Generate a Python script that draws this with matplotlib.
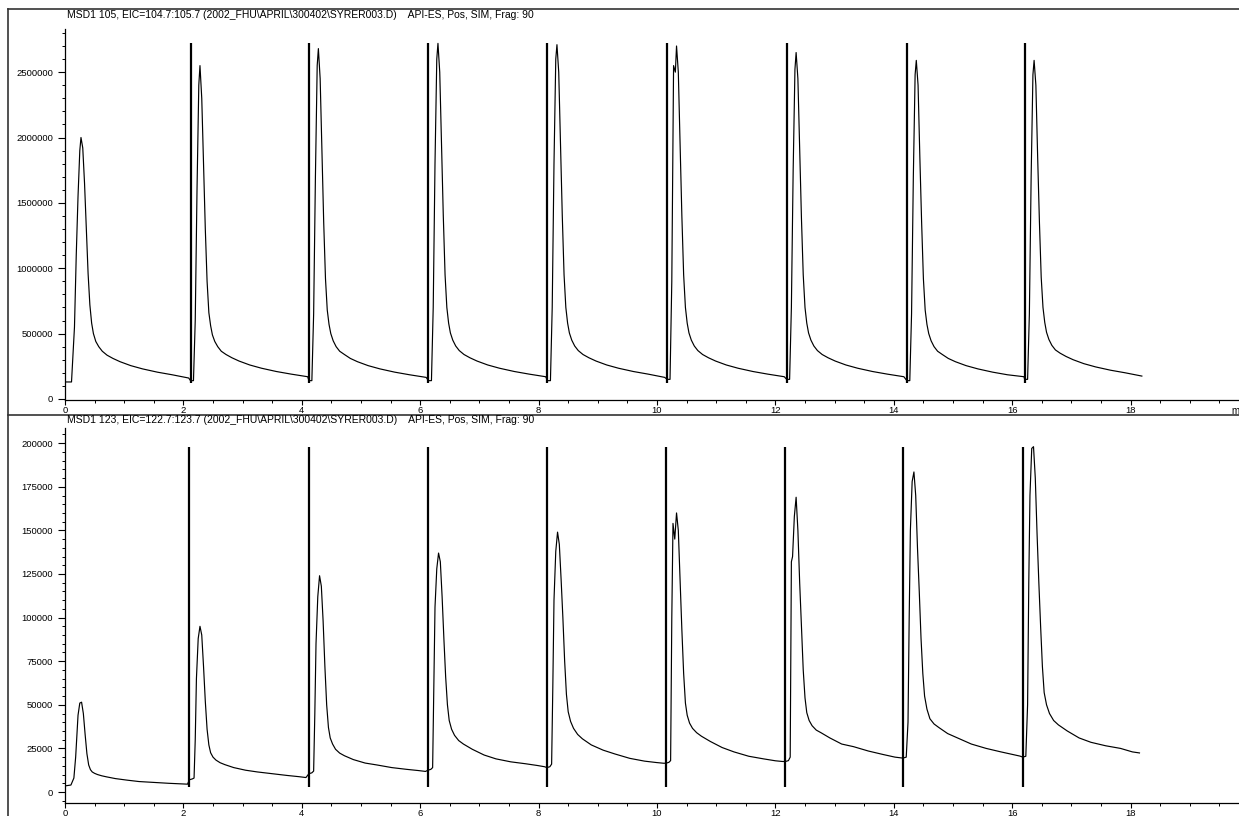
import numpy as np
import matplotlib.pyplot as plt
from matplotlib.ticker import MultipleLocator, FuncFormatter
from matplotlib.lines import Line2D

plt.rcParams['font.family'] = ['Liberation Sans', 'DejaVu Sans']

W, H = 1239, 816

top_title = "MSD1 105, EIC=104.7:105.7 (2002_FHU\\APRIL\\300402\\SYRER003.D)    API-ES, Pos, SIM, Frag: 90"
bot_title = "MSD1 123, EIC=122.7:123.7 (2002_FHU\\APRIL\\300402\\SYRER003.D)    API-ES, Pos, SIM, Frag: 90"

# ---- MSD1 105 (top): minutes after each injection, intensity in millions of counts
top_start = [0.11, 2.12, 4.12, 6.14, 8.15, 10.17, 12.19, 14.22, 16.21]
top_off = [0.00, 0.05, 0.08, 0.11, 0.14, 0.16, 0.19, 0.22, 0.25, 0.28, 0.31, 0.34,
           0.37, 0.41, 0.46, 0.52, 0.60, 0.70, 0.82, 1.00, 1.20, 1.45, 1.70, 1.98]
top_seg = [
    [0.13, 0.55, 1.10, 1.55, 1.90, 2.00, 1.92, 1.65, 1.30, 0.96, 0.72, 0.58, 0.50, 0.44, 0.40, 0.365, 0.335, 0.31, 0.285, 0.255, 0.23, 0.205, 0.185, 0.16],
    [0.14, 0.14, 0.60, 1.60, 2.40, 2.55, 2.30, 1.80, 1.30, 0.90, 0.66, 0.56, 0.49, 0.44, 0.40, 0.365, 0.34, 0.315, 0.29, 0.26, 0.235, 0.21, 0.19, 0.17],
    [0.14, 0.14, 0.65, 1.70, 2.55, 2.68, 2.45, 1.90, 1.35, 0.92, 0.68, 0.57, 0.50, 0.445, 0.40, 0.365, 0.34, 0.31, 0.285, 0.255, 0.23, 0.205, 0.185, 0.165],
    [0.14, 0.14, 0.70, 1.80, 2.60, 2.72, 2.50, 1.95, 1.40, 0.95, 0.70, 0.58, 0.505, 0.45, 0.405, 0.37, 0.34, 0.315, 0.29, 0.26, 0.235, 0.21, 0.19, 0.17],
    [0.14, 0.14, 0.70, 1.80, 2.60, 2.71, 2.50, 1.95, 1.40, 0.95, 0.70, 0.58, 0.505, 0.45, 0.405, 0.37, 0.34, 0.315, 0.29, 0.26, 0.235, 0.21, 0.19, 0.165],
    [0.15, 0.15, 0.90, 2.55, 2.50, 2.70, 2.50, 1.95, 1.40, 0.95, 0.70, 0.58, 0.505, 0.45, 0.405, 0.37, 0.34, 0.315, 0.29, 0.26, 0.235, 0.21, 0.19, 0.17],
    [0.15, 0.15, 0.70, 1.75, 2.52, 2.65, 2.45, 1.90, 1.38, 0.95, 0.70, 0.58, 0.505, 0.45, 0.405, 0.37, 0.34, 0.315, 0.29, 0.26, 0.235, 0.21, 0.19, 0.17],
    [0.14, 0.14, 0.65, 1.70, 2.48, 2.59, 2.40, 1.85, 1.35, 0.92, 0.68, 0.57, 0.50, 0.445, 0.40, 0.365, 0.34, 0.31, 0.285, 0.255, 0.23, 0.205, 0.185, 0.17],
    [0.15, 0.15, 0.65, 1.70, 2.48, 2.59, 2.40, 1.85, 1.35, 0.93, 0.70, 0.585, 0.51, 0.455, 0.41, 0.375, 0.35, 0.325, 0.30, 0.27, 0.245, 0.22, 0.20, 0.175],
]
top_spike_t = [2.12, 4.12, 6.14, 8.15, 10.17, 12.19, 14.22, 16.21]
top_spike_lo, top_spike_hi = 125000, 2720000

# ---- MSD1 123 (bottom): counts
bot_start = [0.10, 2.10, 4.12, 6.13, 8.14, 10.15, 12.17, 14.16, 16.18]
bot_off = [0.00, 0.05, 0.08, 0.10, 0.12, 0.15, 0.18, 0.21, 0.24, 0.27, 0.30, 0.33,
           0.36, 0.40, 0.45, 0.52, 0.60, 0.75, 0.95, 1.15, 1.40, 1.65, 1.85, 1.97]
bot_seg = [
    [4000, 8000, 20000, 32000, 44000, 51000, 51500, 45000, 33000, 22000, 15500, 12800, 11500, 10700, 10000, 9300, 8700, 7700, 6800, 6000, 5500, 5000, 4700, 4500],
    [7000, 7500, 8000, 30000, 65000, 88000, 95000, 90000, 72000, 52000, 36000, 27000, 22500, 20000, 18300, 16800, 15700, 14000, 12500, 11500, 10500, 9500, 8800, 8300],
    [10500, 11000, 12000, 45000, 85000, 112000, 124000, 118000, 98000, 72000, 50000, 37000, 31000, 27500, 24500, 22300, 20800, 18600, 16600, 15500, 14000, 13000, 12300, 11800],
    [12500, 13000, 14000, 60000, 106000, 128000, 137000, 132000, 112000, 88000, 66000, 50000, 41000, 36000, 32500, 29500, 27500, 24500, 21200, 19000, 17300, 16200, 15200, 14500],
    [14000, 14500, 16000, 60000, 110000, 138000, 149000, 142000, 122000, 100000, 75000, 56000, 46000, 40500, 36500, 33000, 30500, 27000, 24000, 21800, 19300, 17700, 16900, 16500],
    [16500, 17000, 18000, 100000, 154000, 145000, 160000, 150000, 122000, 93000, 68000, 51000, 44000, 39500, 36500, 34000, 32000, 29000, 25500, 23000, 20500, 19000, 17900, 17500],
    [17500, 18000, 20000, 132000, 135000, 158000, 169000, 150000, 120000, 95000, 70000, 54000, 45500, 41000, 38000, 35500, 34000, 31000, 27500, 26000, 23500, 21500, 20000, 19500],
    [19500, 20000, 40000, 100000, 150000, 178000, 183500, 170000, 140000, 115000, 88000, 68000, 55000, 47500, 42000, 39000, 37000, 33500, 30500, 27500, 25000, 23000, 21500, 20600],
    [20000, 20500, 50000, 120000, 170000, 197000, 198000, 180000, 148000, 120000, 95000, 72000, 57000, 50000, 45000, 41000, 38500, 35000, 31000, 28500, 26500, 25000, 23000, 22400],
]
bot_spike_t = [2.10, 4.12, 6.13, 8.14, 10.15, 12.17, 14.16, 16.18]
bot_spike_lo, bot_spike_hi = 3000, 198000


def build(starts, offs, segs, first, scale=1.0):
    t = [0.0]
    y = [first]
    for s, vals in zip(starts, segs):
        t += [s + o for o in offs]
        y += [v * scale for v in vals]
    return np.array(t), np.array(y)


t_top, y_top = build(top_start, top_off, top_seg, 130000, 1e6)
t_bot, y_bot = build(bot_start, bot_off, bot_seg, 3500)

fig = plt.figure(figsize=(W / 100, H / 100), dpi=100)

XMAX = 19.85  # axis runs off the right edge of the page


def px_axes(left, top, right, bottom):
    return fig.add_axes([left / W, 1 - bottom / H, (right - left) / W, (bottom - top) / H])


def style(ax, ymaj, ymin):
    for s in ['top', 'right']:
        ax.spines[s].set_visible(False)
    for s in ['left', 'bottom']:
        ax.spines[s].set_linewidth(0.9)
    ax.xaxis.set_major_locator(MultipleLocator(2))
    ax.xaxis.set_minor_locator(MultipleLocator(0.5))
    ax.yaxis.set_major_locator(MultipleLocator(ymaj))
    ax.yaxis.set_minor_locator(MultipleLocator(ymin))
    ax.yaxis.set_major_formatter(FuncFormatter(lambda v, p: '%d' % v))
    ax.tick_params(axis='y', which='major', length=5, width=0.8, labelsize=6.8, pad=3.5)
    ax.tick_params(axis='x', which='major', length=3.5, width=0.8, labelsize=6.8, pad=0.8)
    ax.tick_params(which='minor', length=2.3, width=0.7)
    ax.set_xlim(0, XMAX)


ax1 = px_axes(65, 29, 65 + XMAX * 59.2, 400)
ax1.plot(t_top, y_top, color='k', lw=0.85)
ax1.vlines(top_spike_t, top_spike_lo, top_spike_hi, color='k', lw=1.6)
ax1.set_ylim(-8000, 2830000)
style(ax1, 500000, 100000)

ax2 = px_axes(65, 428, 65 + XMAX * 59.2, 803)
ax2.plot(t_bot, y_bot, color='k', lw=0.85)
ax2.vlines(bot_spike_t, bot_spike_lo, bot_spike_hi, color='k', lw=1.6)
ax2.set_ylim(-6300, 208700)
style(ax2, 25000, 5000)

# titles and frame
fig.text(67 / W, 1 - 15 / H, top_title, fontsize=7.5, va='center', ha='left')
fig.text(67 / W, 1 - 420 / H, bot_title, fontsize=7.5, va='center', ha='left')
fig.text(1231 / W, 1 - 414 / H, 'min', fontsize=7, va='baseline', ha='left')

for (x0, y0, x1, y1) in [(8, 9, W, 9), (8, 9, 8, H), (8, 415, W, 415)]:
    fig.add_artist(Line2D([x0 / W, x1 / W], [1 - y0 / H, 1 - y1 / H],
                          transform=fig.transFigure, color='#333333', lw=1.2))

fig.savefig('out.png', dpi=100)
